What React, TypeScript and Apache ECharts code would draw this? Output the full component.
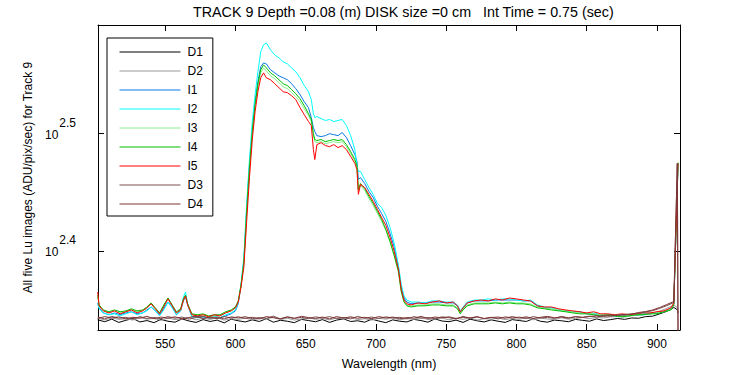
import React, { useEffect, useRef } from "react";
import * as echarts from "echarts";

const TITLE = "TRACK 9 Depth =0.08 (m) DISK size =0 cm   Int Time = 0.75 (sec)";
const X_NAME = "Wavelength (nm)";
const Y_NAME = "All five Lu images (ADU/pix/sec) for Track 9";

const xTicks = [550, 600, 650, 700, 750, 800, 850, 900];
const yTicksLog = [2.4, 2.5];

// wavelength grid (nm) shared by the five illuminated spectra
const wavelengths = [
  502, 503, 506, 510, 514, 518, 522, 526, 530, 534,
  537, 540, 543, 546, 549, 552, 555, 558, 561, 563,
  564.5, 566, 569, 573, 577, 581, 585, 589, 593, 597,
  600, 602, 604, 606, 608, 610, 612, 614, 616, 618,
  620, 622, 625, 628, 631, 634, 637, 640, 643, 646,
  649, 652, 654, 655.5, 656.5, 658, 661, 664, 667, 670,
  673, 676, 679, 682, 685, 686.5, 687.5, 689, 692, 695,
  698, 701, 704, 707, 710, 713, 716, 718, 720, 722,
  725, 730, 735, 740, 745, 750, 755, 758, 760, 762,
  765, 770, 775, 780, 785, 790, 795, 800, 805, 810,
  815, 820, 825, 830, 835, 840, 845, 850, 855, 860,
  865, 870, 875, 880, 885, 890, 895, 900, 905, 910,
  912, 915,
];

const I1 = [
  227.0, 224.8, 222.6, 221.8, 222.6, 221.8, 222.6, 223.1, 222.2, 222.6,
  223.9, 225.2, 223.5, 221.8, 224.4, 227.4, 225.2, 221.8, 223.5, 227.9,
  229.7, 226.1, 220.9, 220.9, 220.9, 220.5, 221.3, 220.5, 221.3, 222.2,
  223.5, 226.6, 235.1, 246.4, 272.7, 297.7, 318.7, 336.6, 350.1, 360.4,
  363.2, 362.5, 358.3, 356.2, 354.1, 352.8, 351.4, 348.7, 345.3, 341.3,
  336.6, 332.7, 326.3, 320.0, 317.5, 315.0, 314.4, 315.0, 316.2, 315.6,
  315.0, 316.9, 313.8, 308.9, 303.5, 299.4, 289.1, 290.2, 286.8, 282.4,
  279.1, 274.3, 270.5, 266.4, 260.2, 253.2, 243.5, 234.2, 229.2, 227.4,
  226.6, 227.0, 227.0, 227.4, 227.4, 227.0, 227.0, 225.7, 223.1, 224.8,
  227.0, 227.9, 227.9, 227.9, 228.3, 228.3, 228.3, 228.3, 227.9, 227.9,
  225.7, 224.8, 224.8, 223.9, 223.5, 223.1, 223.1, 222.2, 222.2, 221.8,
  221.8, 221.3, 221.3, 221.8, 221.8, 221.8, 222.2, 222.6, 223.1, 224.4,
  226.6, 298.3,
];

const I2 = [
  226.6, 224.4, 222.6, 221.8, 222.2, 221.3, 222.2, 223.1, 221.8, 222.6,
  223.5, 225.2, 223.5, 221.3, 223.9, 227.4, 224.8, 221.8, 223.5, 229.7,
  231.9, 226.6, 220.9, 220.5, 220.9, 220.5, 220.9, 220.5, 221.8, 222.6,
  223.9, 227.0, 235.5, 248.3, 275.4, 300.6, 323.8, 341.3, 356.9, 371.2,
  376.3, 377.7, 372.6, 369.0, 366.8, 364.0, 362.5, 359.7, 356.9, 352.8,
  347.4, 343.3, 338.0, 328.8, 326.3, 327.0, 325.7, 324.5, 325.1, 323.8,
  324.5, 325.1, 321.3, 315.0, 306.5, 297.1, 293.7, 293.7, 289.1, 284.6,
  280.8, 275.9, 273.7, 269.5, 263.3, 255.2, 244.4, 235.5, 230.1, 228.3,
  227.4, 227.4, 227.0, 227.9, 227.9, 227.4, 227.4, 226.1, 223.5, 225.2,
  227.4, 228.3, 228.3, 228.8, 228.3, 228.8, 228.8, 228.3, 227.9, 228.3,
  226.1, 225.2, 224.8, 223.9, 223.5, 223.1, 223.1, 222.2, 222.6, 221.8,
  221.8, 221.3, 221.8, 221.8, 221.8, 222.2, 222.6, 222.6, 223.1, 224.4,
  226.6, 298.3,
];

const I3 = [
  229.7, 225.7, 223.5, 222.6, 223.5, 222.6, 223.1, 223.9, 223.1, 223.5,
  224.8, 226.6, 224.4, 222.2, 225.7, 228.8, 225.7, 222.6, 223.9, 228.3,
  230.1, 226.1, 221.8, 221.3, 221.8, 220.9, 221.3, 221.3, 222.6, 223.5,
  224.8, 227.4, 234.6, 245.4, 270.5, 294.8, 316.2, 333.4, 346.7, 356.2,
  359.7, 357.6, 354.1, 352.1, 349.4, 346.7, 345.3, 342.6, 339.9, 336.6,
  332.1, 327.6, 323.8, 315.0, 311.3, 310.7, 311.3, 310.1, 310.7, 311.3,
  310.7, 311.3, 308.3, 304.1, 299.4, 296.0, 282.9, 285.7, 282.9, 278.6,
  274.8, 270.5, 266.4, 261.7, 255.7, 248.7, 241.1, 231.9, 227.4, 226.1,
  225.7, 226.1, 226.1, 226.6, 226.6, 226.1, 226.1, 224.8, 222.6, 224.4,
  226.1, 227.0, 227.0, 227.0, 227.4, 227.0, 227.4, 227.0, 227.0, 226.6,
  225.2, 224.8, 224.4, 223.9, 223.5, 223.1, 222.6, 222.6, 222.2, 221.8,
  221.8, 221.3, 221.3, 221.3, 221.8, 221.8, 222.2, 222.6, 223.1, 224.4,
  226.6, 298.3,
];

const I4 = [
  230.5, 226.1, 223.9, 223.1, 223.9, 223.1, 223.5, 224.4, 223.5, 223.9,
  225.2, 227.0, 224.8, 222.6, 226.1, 229.2, 226.1, 223.1, 224.4, 228.8,
  230.5, 226.6, 222.2, 221.8, 222.2, 221.3, 221.8, 221.8, 223.1, 223.9,
  225.2, 227.9, 235.1, 245.9, 271.6, 296.0, 317.5, 334.7, 348.7, 358.3,
  361.8, 359.7, 356.2, 354.1, 351.4, 348.7, 347.4, 344.7, 341.9, 338.6,
  334.0, 328.8, 325.1, 316.2, 312.6, 312.0, 312.6, 311.3, 312.0, 312.6,
  312.0, 312.6, 309.5, 305.3, 300.6, 297.1, 283.5, 286.8, 284.0, 279.7,
  275.9, 271.6, 267.4, 262.2, 256.2, 249.2, 241.6, 232.3, 227.4, 225.7,
  225.2, 225.7, 225.7, 226.1, 226.1, 225.7, 225.7, 224.4, 222.2, 223.9,
  225.7, 226.6, 226.6, 226.6, 227.0, 226.6, 227.0, 226.6, 226.6, 226.1,
  224.8, 224.4, 223.9, 223.5, 223.1, 222.6, 222.2, 222.2, 221.8, 221.3,
  221.8, 221.3, 220.9, 221.3, 221.8, 221.8, 222.2, 222.2, 223.1, 223.9,
  226.1, 298.8,
];

const I5 = [
  231.9, 225.7, 223.5, 222.6, 223.5, 222.2, 223.1, 223.9, 222.6, 223.5,
  224.8, 226.6, 224.4, 222.2, 225.2, 228.8, 225.7, 222.6, 223.9, 228.3,
  230.1, 226.1, 221.8, 221.3, 221.8, 220.9, 221.8, 221.3, 222.6, 223.5,
  224.8, 227.4, 234.2, 243.5, 266.3, 290.2, 312.6, 330.1, 343.3, 352.8,
  356.2, 352.8, 351.4, 348.7, 346.0, 343.3, 342.6, 340.6, 338.0, 332.7,
  328.2, 323.8, 321.3, 306.5, 300.6, 309.5, 310.7, 308.9, 308.3, 309.5,
  307.7, 308.9, 306.5, 302.4, 298.3, 294.8, 280.8, 286.3, 284.6, 280.8,
  277.0, 272.7, 268.4, 264.3, 258.2, 251.2, 242.5, 233.2, 228.3, 226.6,
  226.1, 227.0, 226.6, 227.4, 227.9, 227.0, 227.4, 225.7, 223.1, 224.8,
  227.0, 227.9, 228.3, 227.9, 228.8, 228.3, 229.2, 228.8, 228.3, 227.9,
  225.7, 225.2, 225.2, 224.4, 223.9, 223.5, 223.1, 222.6, 223.1, 222.2,
  222.2, 221.8, 222.2, 221.8, 222.2, 222.6, 222.6, 223.1, 223.5, 224.8,
  227.0, 298.3,
];

// wavelength grid (nm) of the dark frames
const darkWavelengths = [
  502, 507, 512, 517, 522, 527, 532, 537, 542, 547,
  552, 557, 562, 567, 572, 577, 582, 587, 592, 597,
  602, 607, 612, 617, 622, 627, 632, 637, 642, 647,
  652, 657, 662, 667, 672, 677, 682, 687, 692, 697,
  702, 707, 712, 717, 722, 727, 732, 737, 742, 747,
  752, 757, 762, 767, 772, 777, 782, 787, 792, 797,
  802, 807, 812, 817, 822, 827, 832, 837, 842, 847,
  852, 857, 862, 867, 872, 877, 882, 887, 892, 897,
  902, 907, 912, 914.5, 915,
];

const D1 = [
  219.6, 218.8, 219.9, 218.5, 219.4, 220.2, 218.7, 219.3, 218.4, 219.8,
  219.0, 218.6, 220.0, 219.1, 218.5, 219.7, 218.9, 219.5, 218.3, 219.9,
  219.2, 218.7, 219.6, 218.9, 220.1, 218.6, 219.4, 219.0, 218.4, 219.8,
  219.3, 218.8, 219.7, 218.5, 219.5, 220.0, 218.9, 219.2, 218.6, 219.9,
  219.1, 218.4, 219.6, 219.0, 218.7, 219.8, 219.3, 218.6, 220.0, 219.1,
  218.8, 219.5, 218.5, 219.9, 219.2, 218.7, 219.6, 219.0, 218.5, 219.7,
  219.3, 218.9, 220.1, 219.0, 218.6, 219.5, 219.2, 218.8, 219.8, 219.4,
  219.0, 220.0, 219.3, 219.7, 220.2, 219.8, 220.4, 220.3, 221.0, 221.2,
  222.2, 223.3, 225.0, 224.0, 222.5,
];

const D2 = [
  220.3, 219.6, 220.5, 219.8, 220.1, 219.5, 220.6, 219.9, 220.2, 219.4,
  220.4, 219.7, 220.0, 220.6, 219.6, 220.3, 219.8, 220.5, 219.5, 220.1,
  219.8, 220.4, 219.6, 220.2, 219.9, 220.7, 219.7, 220.3, 219.5, 220.0,
  220.5, 219.8, 220.2, 219.6, 220.4, 219.9, 220.6, 219.7, 220.1, 219.5,
  220.3, 219.9, 220.5, 219.6, 220.2, 219.8, 220.6, 219.7, 220.0, 220.4,
  219.6, 220.3, 219.8, 220.5, 219.5, 220.1, 219.9, 220.4, 219.7, 220.2,
  219.8, 220.6, 219.6, 220.3, 220.0, 219.7, 220.5, 219.9, 220.2, 220.6,
  220.1, 220.7, 220.4, 220.9, 221.0, 220.8, 221.4, 221.6, 222.0, 222.6,
  223.4, 224.6, 226.0, 225.0, 223.0,
];

const D3 = [
  220.8, 220.0, 221.1, 220.3, 220.7, 219.9, 221.0, 220.2, 220.6, 220.1,
  221.0, 220.3, 220.8, 219.9, 220.6, 221.1, 220.2, 220.7, 220.0, 220.9,
  220.4, 221.0, 220.1, 220.6, 220.3, 221.2, 220.0, 220.8, 220.2, 220.7,
  220.1, 220.9, 220.4, 221.0, 220.2, 220.6, 220.0, 221.1, 220.3, 220.8,
  220.2, 220.9, 220.4, 220.7, 220.0, 221.0, 220.3, 220.6, 220.1, 220.9,
  220.5, 220.0, 221.1, 220.3, 220.8, 220.2, 220.7, 220.0, 220.9, 220.4,
  220.8, 220.1, 221.0, 220.4, 220.7, 220.2, 221.1, 220.5, 220.9, 220.6,
  221.2, 220.8, 221.5, 221.1, 221.8, 221.6, 222.2, 222.4, 223.0, 223.6,
  224.6, 225.8, 227.2, 298.3, 214.0,
];

const D4 = [
  220.2, 221.0, 220.4, 220.9, 220.0, 220.7, 220.3, 221.1, 220.1, 220.8,
  220.3, 220.9, 220.0, 220.6, 221.2, 220.2, 220.8, 220.1, 221.0, 220.4,
  220.9, 220.2, 220.7, 220.0, 221.0, 220.5, 220.1, 220.9, 220.3, 221.1,
  220.6, 220.2, 220.8, 220.0, 221.0, 220.4, 220.9, 220.3, 220.7, 220.1,
  221.0, 220.4, 220.8, 220.1, 220.6, 220.3, 221.1, 220.2, 220.8, 220.5,
  220.9, 220.2, 220.7, 220.4, 221.0, 220.1, 220.6, 220.8, 220.3, 221.0,
  220.4, 220.9, 220.2, 220.7, 221.1, 220.5, 220.8, 220.3, 221.0, 220.7,
  221.0, 221.4, 221.0, 221.7, 221.5, 222.0, 222.1, 222.8, 223.2, 223.9,
  225.0, 226.3, 227.6, 298.3, 214.0,
];

const seriesDefs = [
  { name: "D1", x: darkWavelengths, y: D1, color: "#000000" },
  { name: "D2", x: darkWavelengths, y: D2, color: "#999999" },
  { name: "I1", x: wavelengths, y: I1, color: "#0a78e6" },
  { name: "I2", x: wavelengths, y: I2, color: "#00ffff" },
  { name: "I3", x: wavelengths, y: I3, color: "#88ee88" },
  { name: "I4", x: wavelengths, y: I4, color: "#00bf00" },
  { name: "I5", x: wavelengths, y: I5, color: "#ff0000" },
  { name: "D3", x: darkWavelengths, y: D3, color: "#7d4e50" },
  { name: "D4", x: darkWavelengths, y: D4, color: "#7f3535" },
];

const FONT = "'Liberation Sans', Arial, Helvetica, sans-serif";
const X_MIN = 502.2;
const X_MAX = 916.4;
const Y_MIN = 2.333;
const Y_MAX = 2.5924;

export default function App() {
  const ref = useRef<HTMLDivElement>(null);
  useEffect(() => {
    document.body.style.margin = "0";
    if (!ref.current) return;
    const chart = echarts.init(ref.current, undefined, { renderer: "svg" });
    const black = { color: "#000", width: 1 };
    const option: any = {
      animation: false,
      backgroundColor: "#ffffff",
      textStyle: { fontFamily: FONT, color: "#000" },
      title: {
        text: TITLE,
        left: 193,
        top: 5,
        padding: 0,
        textStyle: { fontFamily: FONT, fontSize: 14.3, fontWeight: "normal", color: "#000" },
      },
      legend: {
        orient: "vertical",
        left: 107,
        top: 38,
        itemWidth: 61,
        itemHeight: 14,
        itemGap: 7,
        padding: [8, 10, 6, 12],
        backgroundColor: "#ffffff",
        borderColor: "#000",
        borderWidth: 1,
        borderRadius: 0,
        itemStyle: { opacity: 0 },
        lineStyle: { width: 1 },
        textStyle: { fontFamily: FONT, fontSize: 12, color: "#000", padding: [0, 0, 0, 2] },
        data: seriesDefs.map((s) => s.name),
      },
      grid: { left: 98, right: 70, top: 25, bottom: 44 },
      xAxis: [
        {
          type: "value",
          min: X_MIN,
          max: X_MAX,
          position: "bottom",
          axisLine: { show: true, onZero: false, lineStyle: black },
          axisTick: { show: true, inside: true, length: 6, customValues: xTicks, lineStyle: black },
          axisLabel: { show: true, customValues: xTicks, margin: 8, fontSize: 12, fontFamily: FONT, color: "#000" },
          splitLine: { show: false },
          name: X_NAME,
          nameLocation: "middle",
          nameGap: 27,
          nameTextStyle: { fontSize: 12.5, fontFamily: FONT, color: "#000" },
        },
        {
          type: "value",
          min: X_MIN,
          max: X_MAX,
          position: "top",
          axisLine: { show: true, onZero: false, lineStyle: black },
          axisTick: { show: true, inside: true, length: 6, customValues: xTicks, lineStyle: black },
          axisLabel: { show: false },
          splitLine: { show: false },
        },
      ],
      yAxis: [
        {
          type: "value",
          min: Y_MIN,
          max: Y_MAX,
          position: "left",
          axisLine: { show: true, onZero: false, lineStyle: black },
          axisTick: { show: true, inside: true, length: 6, customValues: yTicksLog, lineStyle: black },
          axisLabel: {
            show: true,
            customValues: yTicksLog,
            margin: 22,
            formatter: (v: number) => `{b|10}{e|${v.toFixed(1)}}`,
            rich: {
              b: { fontSize: 12, fontFamily: FONT, color: "#000", padding: [12, 0, 10, 0] },
              e: { fontSize: 12, fontFamily: FONT, color: "#000", padding: [0, 0, 22, 1] },
            },
          },
          splitLine: { show: false },
          name: Y_NAME,
          nameLocation: "middle",
          nameGap: 42,
          nameRotate: 90,
          nameTextStyle: { fontSize: 12, fontFamily: FONT, color: "#000" },
        },
        {
          type: "value",
          min: Y_MIN,
          max: Y_MAX,
          position: "right",
          axisLine: { show: true, onZero: false, lineStyle: black },
          axisTick: { show: true, inside: true, length: 6, customValues: yTicksLog, lineStyle: black },
          axisLabel: { show: false },
          splitLine: { show: false },
        },
      ],
      series: seriesDefs.map((s) => ({
        name: s.name,
        type: "line",
        xAxisIndex: 0,
        yAxisIndex: 0,
        showSymbol: false,
        symbol: "none",
        clip: true,
        color: s.color,
        lineStyle: { color: s.color, width: 1 },
        data: s.x.map((w, i) => [w, Math.log10(s.y[i])]),
      })),
    };
    chart.setOption(option);
    return () => chart.dispose();
  }, []);
  return <div ref={ref} style={{ width: 750, height: 375 }} />;
}
